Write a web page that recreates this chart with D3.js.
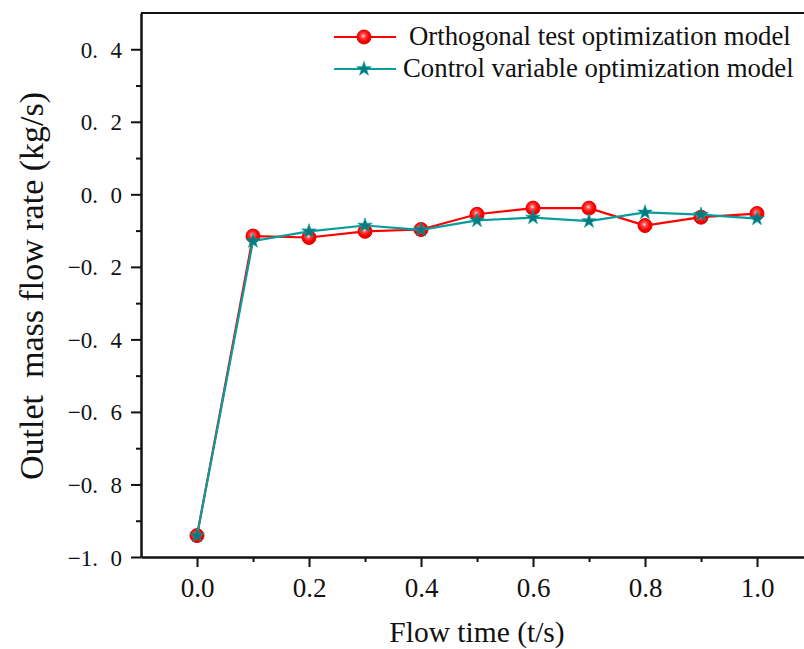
<!DOCTYPE html>
<html>
<head>
<meta charset="utf-8">
<script src="https://cdn.jsdelivr.net/npm/d3@7"></script>
<style>
  html, body { margin: 0; padding: 0; background: #fff; }
  svg { display: block; }
  text { font-family: "Liberation Serif", "Times New Roman", serif; fill: #111; }
</style>
</head>
<body>
<svg id="chart" width="804" height="649"></svg>
<script>
// ---- data ----
const times = [0.0, 0.1, 0.2, 0.3, 0.4, 0.5, 0.6, 0.7, 0.8, 0.9, 1.0];
const orthogonal = [-0.941, -0.115, -0.119, -0.102, -0.097, -0.055, -0.038, -0.038, -0.086, -0.063, -0.053];
const controlVar = [-0.941, -0.129, -0.102, -0.086, -0.098, -0.072, -0.064, -0.074, -0.050, -0.056, -0.067];
const seriesNames = ["Orthogonal test optimization model", "Control variable optimization model"];
const xMajorTicks = [0.0, 0.2, 0.4, 0.6, 0.8, 1.0];
const xMinorTicks = [0.1, 0.3, 0.5, 0.7, 0.9];
const yMajorTicks = [-1.0, -0.8, -0.6, -0.4, -0.2, 0.0, 0.2, 0.4];
const yMinorTicks = [-0.9, -0.7, -0.5, -0.3, -0.1, 0.1, 0.3];
const xTitle = "Flow time (t/s)";
const yTitle = "Outlet  mass flow rate (kg/s)";

(function () {
const svg = d3.select("#chart");
const W = 804, H = 649;
const FONT = "Liberation Serif, Times New Roman, serif";
svg.append("rect").attr("width", W).attr("height", H).attr("fill", "#fff");

const pL = 141, pR = 813, pT = 13, pB = 557;
const x = d3.scaleLinear().domain([-0.1, 1.1]).range([pL, pR]);
const y = d3.scaleLinear().domain([-1.0, 0.5]).range([pB, pT]);

// gradient for red balls
const defs = svg.append("defs");
const grad = defs.append("radialGradient").attr("id", "ball").attr("cx", "45%").attr("cy", "42%").attr("r", "60%");
grad.append("stop").attr("offset", "0%").attr("stop-color", "#ffe6e6");
grad.append("stop").attr("offset", "25%").attr("stop-color", "#ff5050");
grad.append("stop").attr("offset", "65%").attr("stop-color", "#ff0000");
grad.append("stop").attr("offset", "100%").attr("stop-color", "#d80000");

// top border
svg.append("line").attr("x1", pL).attr("x2", W).attr("y1", pT).attr("y2", pT)
  .attr("stroke", "#111").attr("stroke-width", 2.2);

// x axis
const fmtX = d3.format(".1f");
const gx = svg.append("g").attr("transform", `translate(0,${pB})`)
  .call(d3.axisBottom(x).tickValues(xMajorTicks).tickSize(10).tickSizeOuter(0).tickFormat(fmtX));
gx.select(".domain").attr("stroke", "#111").attr("stroke-width", 2.5);
gx.selectAll(".tick line").attr("stroke", "#111").attr("stroke-width", 2);
gx.selectAll(".tick text").attr("font-size", 27).attr("dy", 0).attr("y", 40)
  .attr("font-family", FONT).attr("fill", "#111");
const gxm = svg.append("g").attr("transform", `translate(0,${pB})`)
  .call(d3.axisBottom(x).tickValues(xMinorTicks).tickSize(5).tickFormat(""));
gxm.select(".domain").remove();
gxm.selectAll(".tick line").attr("stroke", "#111").attr("stroke-width", 2);

// y axis
const gy = svg.append("g").attr("transform", `translate(${pL},0)`)
  .call(d3.axisLeft(y).tickValues(yMajorTicks).tickSize(10).tickSizeOuter(0).tickFormat(""));
gy.select(".domain").attr("stroke", "#111").attr("stroke-width", 2.5);
gy.selectAll(".tick line").attr("stroke", "#111").attr("stroke-width", 2);
gy.selectAll(".tick").each(function (d) {
  const s = d3.format(".1f")(Math.abs(d)).split(".");
  const t = d3.select(this).append("text")
    .attr("x", -19).attr("dy", "0.35em").attr("text-anchor", "end")
    .attr("font-size", 23).attr("font-family", FONT).attr("fill", "#111");
  t.append("tspan").text((d < -1e-9 ? "\u2212" : "") + s[0] + ".");
  t.append("tspan").attr("dx", 12.5).text(s[1]);
});
const gym = svg.append("g").attr("transform", `translate(${pL},0)`)
  .call(d3.axisLeft(y).tickValues(yMinorTicks).tickSize(5).tickFormat(""));
gym.select(".domain").remove();
gym.selectAll(".tick line").attr("stroke", "#111").attr("stroke-width", 2);

// titles
svg.append("text").attr("x", (pL + pR) / 2).attr("y", 642).attr("text-anchor", "middle")
  .attr("font-size", 29.5).text(xTitle);
svg.append("text").attr("transform", `translate(43,286) rotate(-90)`).attr("text-anchor", "middle")
  .attr("font-size", 34).style("white-space", "pre").text(yTitle);

// series
const redData = times.map((t, i) => [t, orthogonal[i]]);
const tealData = times.map((t, i) => [t, controlVar[i]]);
const line = d3.line().x(d => x(d[0])).y(d => y(d[1]));
const redColor = "#ff0000", tealLine = "#089c9c", tealMark = "#007c80";
const star = d3.symbol().type(d3.symbolStar).size(66);

svg.append("path").datum(redData).attr("d", line).attr("fill", "none")
  .attr("stroke", redColor).attr("stroke-width", 2.2);
svg.append("g").selectAll("circle").data(redData).join("circle")
  .attr("cx", d => x(d[0])).attr("cy", d => y(d[1])).attr("r", 7)
  .attr("fill", "url(#ball)").attr("stroke", "#e80000").attr("stroke-width", 1);

svg.append("path").datum(tealData).attr("d", line).attr("fill", "none")
  .attr("stroke", tealLine).attr("stroke-width", 2.2);
svg.append("g").selectAll("path").data(tealData).join("path")
  .attr("d", star).attr("transform", d => `translate(${x(d[0])},${y(d[1])})`)
  .attr("fill", tealMark).attr("stroke", "#0a9a9a").attr("stroke-width", 0.6);

// legend
const lg = svg.append("g");
const rows = [
  { name: seriesNames[0], y: 37, tx: 409, color: redColor, marker: "circle" },
  { name: seriesNames[1], y: 69, tx: 403, color: tealLine, marker: "star" }
];
rows.forEach(r => {
  lg.append("line").attr("x1", 334).attr("x2", 396).attr("y1", r.y).attr("y2", r.y)
    .attr("stroke", r.color).attr("stroke-width", 2.2);
  if (r.marker === "circle") {
    lg.append("circle").attr("cx", 364).attr("cy", r.y).attr("r", 7)
      .attr("fill", "url(#ball)").attr("stroke", "#e80000").attr("stroke-width", 1);
  } else {
    lg.append("path").attr("d", star).attr("transform", `translate(364,${r.y})`)
      .attr("fill", tealMark).attr("stroke", "#0a9a9a").attr("stroke-width", 0.6);
  }
  lg.append("text").attr("x", r.tx).attr("y", r.y + 8).attr("font-size", 26.8).text(r.name);
});
})();
</script>
</body>
</html>
